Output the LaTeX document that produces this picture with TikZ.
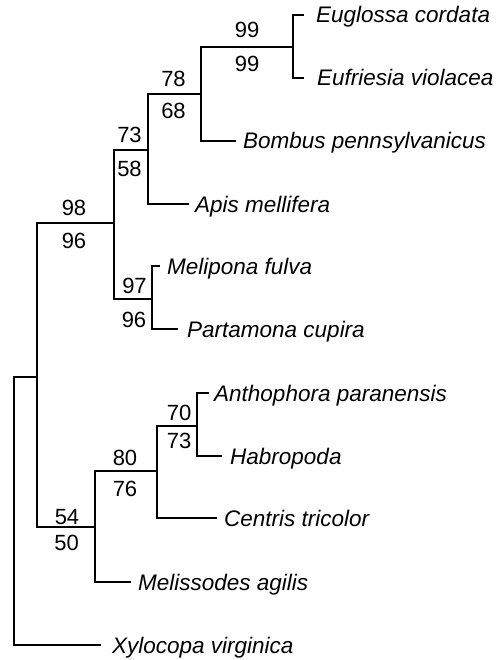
\documentclass[tikz,border=0pt]{standalone}
\usepackage{fontspec}
\setmainfont{Liberation Sans}
\begin{document}
\begin{tikzpicture}[x=1pt,y=-1pt,
  branch/.style={line width=1.4pt,line cap=rect},
  leaf/.style={anchor=base west,inner sep=0pt,font=\fontsize{22.5}{27}\selectfont\itshape},
  boot/.style={anchor=base,inner sep=0pt,font=\fontsize{22}{26}\selectfont}]
\useasboundingbox (0,0) rectangle (501,660);
% internal nodes
\coordinate (R) at (14,377);
\coordinate (A) at (37,377);
\coordinate (B) at (114,223);
\coordinate (C) at (148,150);
\coordinate (D) at (201,94);
\coordinate (E) at (293,47);
\coordinate (F) at (152,299);
\coordinate (G) at (95,527);
\coordinate (H) at (157,471);
\coordinate (I) at (197,426);
% leaf tips
\coordinate (tEug) at (303,15);
\coordinate (tEuf) at (303,78);
\coordinate (tBom) at (235,141);
\coordinate (tApi) at (188,204);
\coordinate (tMel) at (159,266);
\coordinate (tPar) at (177,329);
\coordinate (tAnt) at (208,393);
\coordinate (tHab) at (221,456);
\coordinate (tCen) at (216,518);
\coordinate (tMes) at (130,582);
\coordinate (tXyl) at (100,645);
% branches
\draw[branch] (R) |- (A);
\draw[branch] (R) |- (tXyl);
\draw[branch] (A) |- (B);
\draw[branch] (A) |- (G);
\draw[branch] (B) |- (C);
\draw[branch] (B) |- (F);
\draw[branch] (C) |- (D);
\draw[branch] (C) |- (tApi);
\draw[branch] (D) |- (E);
\draw[branch] (D) |- (tBom);
\draw[branch] (E) |- (tEug);
\draw[branch] (E) |- (tEuf);
\draw[branch] (F) |- (tMel);
\draw[branch] (F) |- (tPar);
\draw[branch] (G) |- (H);
\draw[branch] (G) |- (tMes);
\draw[branch] (H) |- (I);
\draw[branch] (H) |- (tCen);
\draw[branch] (I) |- (tAnt);
\draw[branch] (I) |- (tHab);
% leaf names
\node[leaf] (nEug) at (316,23) {Euglossa cordata};
\node[leaf] (nEuf) at (317,86) {Eufriesia violacea};
\node[leaf] (nBom) at (243,149) {Bombus pennsylvanicus};
\node[leaf] (nApi) at (195,212) {Apis mellifera};
\node[leaf] (nMel) at (167,274) {Melipona fulva};
\node[leaf] (nPar) at (187,337) {Partamona cupira};
\node[leaf] (nAnt) at (214,401) {Anthophora paranensis};
\node[leaf] (nHab) at (230,464) {Habropoda};
\node[leaf] (nCen) at (224,526) {Centris tricolor};
\node[leaf] (nMes) at (138,590) {Melissodes agilis};
\node[leaf] (nXyl) at (112,653) {Xylocopa virginica};
% bootstrap values
\node[boot] (bE1) at (247,38) {99};
\node[boot] (bE2) at (247,72) {99};
\node[boot] (bD1) at (173.5,87) {78};
\node[boot] (bD2) at (173.5,119) {68};
\node[boot] (bC1) at (129.5,143) {73};
\node[boot] (bC2) at (129.5,177) {58};
\node[boot] (bB1) at (74,215) {98};
\node[boot] (bB2) at (74,248) {96};
\node[boot] (bF1) at (134.5,293) {97};
\node[boot] (bF2) at (134,327) {96};
\node[boot] (bI1) at (179,420) {70};
\node[boot] (bI2) at (179,448) {73};
\node[boot] (bH1) at (125,465) {80};
\node[boot] (bH2) at (125,496) {76};
\node[boot] (bG1) at (67,524) {54};
\node[boot] (bG2) at (66.7,550) {50};
\end{tikzpicture}
\end{document}
